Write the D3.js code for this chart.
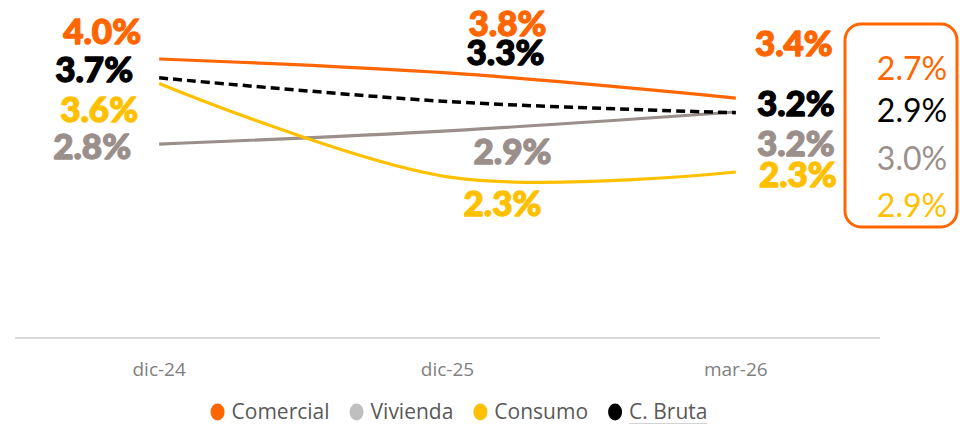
<!DOCTYPE html>
<html>
<head>
<meta charset="utf-8">
<script src="https://cdn.jsdelivr.net/npm/d3@7"></script>
<style>
  html, body { margin: 0; padding: 0; background: #fff; }
  svg { display: block; }
</style>
</head>
<body>
<svg id="chart"></svg>
<script>
const width = 960, height = 424;

// data
const categories = ['dic-24', 'dic-25', 'mar-26'];
const comercial = [4.00, 3.80, 3.44];
const vivienda = [2.78, 2.97, 3.24];
const consumo = [3.65, 2.31, 2.38];
const cBruta = [3.73, 3.39, 3.23];

// data labels as printed on the chart
const comercialLabels = [4.0, 3.8, 3.4];
const viviendaLabels = [2.8, 2.9, 3.2];
const consumoLabels = [3.6, 2.3, 2.3];
const cBrutaLabels = [3.7, 3.3, 3.2];

// side box values
const sideSeries = ['Comercial', 'C. Bruta', 'Vivienda', 'Consumo'];
const sideValues = [2.7, 2.9, 3.0, 2.9];

const legendNames = ['Comercial', 'Vivienda', 'Consumo', 'C. Bruta'];

const colors = {
  'Comercial': '#ff6600',
  'Vivienda': '#9b8f8b',
  'Consumo': '#ffc000',
  'C. Bruta': '#000000'
};
const legendColors = {
  'Comercial': '#ff6600',
  'Vivienda': '#bfbfbf',
  'Consumo': '#ffc000',
  'C. Bruta': '#000000'
};

// label placement: [dx from point, baseline y]
const labelLayout = {
  'Comercial': [[-57, 44], [60, 36], [58, 56]],
  'C. Bruta':  [[-65, 82], [58, 65], [60, 116]],
  'Consumo':   [[-60, 122], [55, 216], [62, 187]],
  'Vivienda':  [[-67, 159], [65, 164], [60, 156]]
};

const series = [
  { name: 'Vivienda', values: vivienda, labels: viviendaLabels },
  { name: 'Consumo', values: consumo, labels: consumoLabels },
  { name: 'Comercial', values: comercial, labels: comercialLabels },
  { name: 'C. Bruta', values: cBruta, labels: cBrutaLabels, dashed: true }
];

const svg = d3.select('#chart')
  .attr('width', width)
  .attr('height', height)
  .attr('viewBox', `0 0 ${width} ${height}`);

const x = d3.scalePoint()
  .domain(categories)
  .range([15, 880])
  .padding(0.5);

const y = d3.scaleLinear()
  .domain([0, 4])
  .range([338, 59]);

// baseline axis
svg.append('line')
  .attr('x1', 15).attr('x2', 880)
  .attr('y1', y(0)).attr('y2', y(0))
  .attr('stroke', '#d9d9d9')
  .attr('stroke-width', 2);

// category labels
svg.append('g')
  .selectAll('text')
  .data(categories)
  .enter()
  .append('text')
  .attr('x', d => x(d))
  .attr('y', 376)
  .attr('text-anchor', 'middle')
  .attr('font-family', '"Open Sans", sans-serif')
  .attr('font-size', 19)
  .attr('fill', '#808080')
  .text(d => d);

// lines
const line = d3.line()
  .x((d, i) => x(categories[i]))
  .y(d => y(d))
  .curve(d3.curveCardinal);

svg.append('g')
  .selectAll('path')
  .data(series)
  .enter()
  .append('path')
  .attr('d', d => line(d.values))
  .attr('fill', 'none')
  .attr('stroke', d => colors[d.name])
  .attr('stroke-width', d => d.dashed ? 3.5 : 3.2)
  .attr('stroke-dasharray', d => d.dashed ? '9,5' : null)
  .attr('stroke-linecap', 'butt');

// data labels (heavy weight: bold + thin stroke)
const fmt = v => d3.format('.1f')(v) + '%';
series.forEach(s => {
  svg.append('g')
    .selectAll('text')
    .data(s.labels)
    .enter()
    .append('text')
    .attr('x', (d, i) => x(categories[i]) + labelLayout[s.name][i][0])
    .attr('y', (d, i) => labelLayout[s.name][i][1])
    .attr('text-anchor', 'middle')
    .attr('font-family', 'Lato, sans-serif')
    .attr('font-weight', 900)
    .attr('font-size', 35)
    .attr('fill', colors[s.name])
    .attr('stroke', colors[s.name])
    .attr('stroke-width', 1.3)
    .attr('stroke-linejoin', 'round')
    .text(fmt);
});

// side box
svg.append('rect')
  .attr('x', 845).attr('y', 24)
  .attr('width', 112).attr('height', 203)
  .attr('rx', 16)
  .attr('fill', 'none')
  .attr('stroke', '#ff6600')
  .attr('stroke-width', 3);

const sideBaselines = [80, 122, 170, 217];
svg.append('g')
  .selectAll('text')
  .data(sideValues)
  .enter()
  .append('text')
  .attr('x', 912)
  .attr('y', (d, i) => sideBaselines[i])
  .attr('text-anchor', 'middle')
  .attr('font-family', 'Lato, sans-serif')
  .attr('font-size', 32)
  .attr('fill', (d, i) => colors[sideSeries[i]])
  .text(fmt);

// legend
const legend = svg.append('g');
let lx = 0;
legendNames.forEach(name => {
  const item = legend.append('g').attr('transform', `translate(${lx},0)`);
  item.append('ellipse')
    .attr('cx', 7).attr('cy', -7)
    .attr('rx', 7).attr('ry', 8.5)
    .attr('fill', legendColors[name]);
  const t = item.append('text')
    .attr('x', 21)
    .attr('y', 0)
    .attr('font-family', '"Open Sans", sans-serif')
    .attr('font-size', 21)
    .attr('fill', '#595959')
    .text(name);
  const w = t.node().getComputedTextLength();
  if (name === 'C. Bruta') {
    item.append('line')
      .attr('x1', 21).attr('x2', 21 + w)
      .attr('y1', 5).attr('y2', 5)
      .attr('stroke', '#a6a6a6')
      .attr('stroke-width', 1);
  }
  lx += 21 + w + 20;
});
const legendWidth = lx - 20;
legend.attr('transform', `translate(${459 - legendWidth / 2},419)`);
</script>
</body>
</html>
